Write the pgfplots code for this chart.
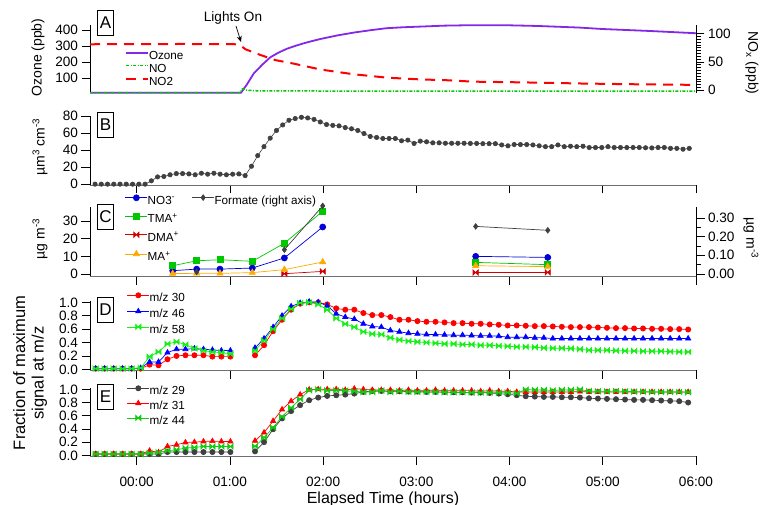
\documentclass[border=0pt]{standalone}
\usepackage{fontspec}
\setmainfont{Liberation Sans}
\usepackage{pgfplots}
\usepackage{pgfplotstable}
\pgfplotsset{compat=1.18}
\usetikzlibrary{arrows.meta}

\definecolor{ozone}{RGB}{130,40,230}
\definecolor{nogreen}{RGB}{0,200,0}
\definecolor{dkgray}{RGB}{64,64,64}
\definecolor{cblue}{RGB}{0,0,215}
\definecolor{cgreen}{RGB}{0,200,0}
\definecolor{cred}{RGB}{210,0,0}
\definecolor{corange}{RGB}{255,170,0}
\definecolor{lred}{RGB}{255,0,0}
\definecolor{lblue}{RGB}{0,0,255}
\definecolor{lgreen}{RGB}{20,240,20}
\definecolor{axgray}{RGB}{110,110,110}

\pgfdeclareplotmark{bowtie}{%
  \pgfpathmoveto{\pgfqpoint{-\pgfplotmarksize}{-\pgfplotmarksize}}%
  \pgfpathlineto{\pgfqpoint{\pgfplotmarksize}{\pgfplotmarksize}}%
  \pgfpathlineto{\pgfqpoint{\pgfplotmarksize}{-\pgfplotmarksize}}%
  \pgfpathlineto{\pgfqpoint{-\pgfplotmarksize}{\pgfplotmarksize}}%
  \pgfpathclose
  \pgfusepathqfillstroke
}

\newcommand{\tickfont}{\fontsize{13.6}{15}\selectfont}
\newcommand{\legfont}{\fontsize{11.7}{13}\selectfont}
\newcommand{\labfont}{\fontsize{14}{16}\selectfont}

\pgfplotsset{
  /pgf/number format/assume math mode=true,
  panel/.style={
    scale only axis, width=606pt, xmin=-0.5, xmax=6,
    xtick={0,1,2,3,4,5,6}, xticklabels={},
    tick align=outside, major tick length=8.5pt, minor tick length=5pt,
    tick style={black, line width=0.6pt},
    axis line style={line width=0.7pt},
    tick label style={font=\tickfont},
    clip=false, unbounded coords=jump,
  },
  bottomleft/.style={axis x line*=bottom, axis y line*=left,
     x axis line style={draw=axgray}},
  leg/.style={
    legend cell align=left,
    legend style={draw=none, fill=none, inner sep=0pt, outer sep=0pt, row sep=#1,
      nodes={inner sep=0pt, text height=8.5pt, text depth=2.5pt, font=\legfont},
      /tikz/every even column/.append style={column sep=5pt}},
    legend image code/.code={\draw[mark repeat=2,mark phase=2,##1] plot coordinates {(0pt,3.5pt) (11pt,3.5pt) (22pt,3.5pt)};},
  },
}

\pgfplotstableread{
t r b g
-0.439 0.01 0.01 0.01
-0.343 0.01 0.01 0.01
-0.246 0.01 0.01 0.01
-0.150 0.01 0.01 0.01
-0.054 0.01 0.01 0.01
0.043 0.01 0.02 0.02
0.139 0.07 0.11 0.19
0.235 0.06 0.11 0.26
0.331 0.15 0.25 0.38
0.428 0.20 0.30 0.41
0.524 0.21 0.30 0.37
0.620 0.21 0.31 0.31
0.717 0.21 0.30 0.28
0.813 0.19 0.29 0.26
0.909 0.19 0.28 0.25
1.006 0.19 0.28 0.23
1.14 nan nan nan
1.270 0.21 0.32 0.28
1.367 0.36 0.46 0.43
1.464 0.57 0.63 0.60
1.560 0.74 0.80 0.76
1.657 0.89 0.94 0.90
1.754 0.98 0.99 0.99
1.851 1.00 1.01 1.00
1.948 1.00 1.00 0.97
2.044 0.97 0.95 0.89
2.141 0.91 0.83 0.76
2.238 0.89 0.78 0.68
2.335 0.89 0.75 0.63
2.432 0.84 0.68 0.56
2.528 0.81 0.64 0.53
2.625 0.81 0.63 0.52
2.722 0.78 0.58 0.47
2.819 0.74 0.56 0.44
2.916 0.74 0.54 0.42
3.012 0.72 0.53 0.41
3.109 0.71 0.52 0.40
3.206 0.71 0.52 0.39
3.303 0.70 0.515 0.38
3.400 0.69 0.51 0.38
3.496 0.69 0.51 0.37
3.593 0.68 0.505 0.37
3.690 0.68 0.50 0.36
3.787 0.67 0.50 0.36
3.884 0.665 0.495 0.35
3.980 0.655 0.48 0.345
4.077 0.655 0.48 0.335
4.174 0.65 0.48 0.335
4.271 0.645 0.47 0.33
4.368 0.645 0.47 0.32
4.464 0.64 0.46 0.315
4.561 0.635 0.46 0.315
4.658 0.63 0.46 0.31
4.755 0.63 0.46 0.30
4.852 0.63 0.46 0.285
4.948 0.625 0.46 0.285
5.045 0.62 0.46 0.285
5.142 0.615 0.46 0.28
5.239 0.615 0.46 0.275
5.336 0.61 0.46 0.275
5.432 0.61 0.46 0.27
5.529 0.605 0.46 0.27
5.626 0.605 0.46 0.27
5.723 0.60 0.46 0.265
5.820 0.60 0.46 0.26
5.916 0.595 0.46 0.26
}\tableD

\pgfplotstableread{
t k r g
-0.439 0.02 0.02 0.02
-0.343 0.02 0.02 0.02
-0.246 0.02 0.02 0.02
-0.150 0.02 0.02 0.02
-0.054 0.02 0.02 0.02
0.043 0.02 0.02 0.02
0.139 0.02 0.07 0.035
0.235 0.02 0.045 0.045
0.331 0.05 0.135 0.07
0.428 0.05 0.16 0.085
0.524 0.05 0.195 0.11
0.620 0.05 0.20 0.12
0.717 0.05 0.21 0.135
0.813 0.05 0.215 0.135
0.909 0.05 0.21 0.135
1.006 0.05 0.21 0.135
1.14 nan nan nan
1.270 0.06 0.22 0.135
1.367 0.20 0.345 0.27
1.464 0.395 0.52 0.42
1.560 0.56 0.695 0.585
1.657 0.67 0.82 0.72
1.754 0.76 0.92 0.85
1.851 0.835 0.995 0.985
1.948 0.875 1.00 1.00
2.044 0.90 1.00 0.98
2.141 0.91 1.00 0.985
2.238 0.92 0.99 0.98
2.335 0.935 1.01 0.97
2.432 0.96 1.00 0.96
2.528 0.975 0.99 0.96
2.625 0.975 0.99 0.98
2.722 0.97 0.99 0.96
2.819 0.97 0.98 0.97
2.916 0.965 0.99 0.96
3.012 0.965 0.98 0.96
3.109 0.96 0.98 0.96
3.206 0.96 0.99 0.96
3.303 0.96 0.98 0.955
3.400 0.955 0.98 0.955
3.496 0.955 0.98 0.955
3.593 0.95 0.98 0.95
3.690 0.95 0.97 0.95
3.787 0.945 0.98 0.95
3.884 0.935 0.97 0.95
3.980 0.925 0.97 0.95
4.077 0.91 0.96 0.94
4.174 0.895 0.96 0.995
4.271 0.89 0.96 0.99
4.368 0.885 0.96 0.99
4.464 0.885 0.96 0.985
4.561 0.88 0.96 0.99
4.658 0.88 0.96 0.99
4.755 0.875 0.965 0.995
4.852 0.865 0.96 0.975
4.948 0.86 0.96 0.97
5.045 0.855 0.96 0.97
5.142 0.85 0.96 0.975
5.239 0.845 0.96 0.97
5.336 0.84 0.96 0.965
5.432 0.84 0.96 0.965
5.529 0.835 0.96 0.96
5.626 0.83 0.96 0.96
5.723 0.825 0.96 0.96
5.820 0.82 0.96 0.96
5.916 0.80 0.96 0.955
}\tableE

\begin{document}
\begin{tikzpicture}
\path[use as bounding box] (0,0) rectangle (761pt,-505pt);

% ---------------- Panel A ----------------
\begin{axis}[panel, at={(90pt,-93pt)}, anchor=south west, height=68pt,
  axis x line=none, axis y line*=left, ymin=8, ymax=430, ytick={100,200,300,400}]
\addplot[ozone, line width=1.8pt] coordinates {
(-0.5,10) (1.12,10) (1.18,58) (1.256,129) (1.35,185) (1.435,230) (1.52,258) (1.61,282)
(1.70,300) (1.79,316) (1.88,330) (1.97,343) (2.15,365) (2.33,383) (2.50,397) (2.68,410)
(2.86,416) (3.04,420) (3.30,426) (3.61,429) (4.00,428) (4.30,424) (4.75,414) (5.00,405)
(5.50,393) (5.96,380) (6.00,379)};
\end{axis}
\begin{axis}[panel, at={(90pt,-93pt)}, anchor=south west, height=68pt,
  axis x line=none, axis y line*=right, ymin=-5, ymax=115, ytick={0,50,100}, minor y tick num=9,
  leg=2pt, legend style={at={(0.0578,0.622)}, anchor=north west}]
\addlegendimage{ozone, line width=1.8pt}
\addlegendentry{Ozone}
\addplot[nogreen, line width=1.5pt, dash pattern=on 3pt off 1.5pt on 1pt off 1.5pt] coordinates {
(-0.5,-4.5) (1.11,-4.5) (1.135,2.5) (1.18,0) (1.3,-1.2) (2,-1.5) (3,-1.5) (4,-1.5) (5,-1.5) (6,-1.5)};
\addlegendentry{NO}
\addplot[red, line width=2pt, dash pattern=on 10pt off 7pt] coordinates {
(-0.5,81) (0.5,81.5) (1.08,81) (1.12,78) (1.17,72) (1.33,62) (1.49,53) (1.68,47) (1.97,36.5)
(2.33,28) (2.69,22) (3.04,19) (3.33,17.5) (3.61,15) (4.04,14) (4.40,13) (4.75,11.8) (5.30,10.5)
(5.96,9.4) (6.0,9.3)};
\addlegendentry{NO2}
\end{axis}

% ---------------- Panel B ----------------
\begin{axis}[panel, bottomleft, at={(90pt,-185pt)}, anchor=south west, height=69pt,
  ymin=-1, ymax=80, ytick={0,20,40,60,80}]
\addplot[dkgray, line width=0.6pt, mark=*, mark size=2.2pt] coordinates {
(-0.446,0) (-0.379,0) (-0.312,0) (-0.245,0) (-0.178,0) (-0.111,0) (-0.043,0) (0.024,0) (0.091,0)
(0.158,3.9) (0.225,8.5) (0.292,9) (0.359,11) (0.426,12.4) (0.493,12.4) (0.561,12) (0.628,11)
(0.695,12.8) (0.762,11.7) (0.829,12.8) (0.896,11.7) (0.963,11) (1.030,11.7) (1.097,12) (1.164,10)
(1.232,21) (1.299,33.5) (1.366,44) (1.433,54) (1.500,63) (1.567,69.5) (1.634,75) (1.701,77)
(1.768,78.5) (1.835,77.7) (1.903,76) (1.970,73) (2.037,70) (2.104,69) (2.171,68.4) (2.238,66.4)
(2.305,65) (2.372,63) (2.439,59.4) (2.506,56) (2.574,54.8) (2.641,53.6) (2.708,53.6) (2.775,53.6)
(2.842,50.9) (2.909,51.7) (2.976,47.8) (3.043,50.5) (3.110,49.7) (3.177,48.5) (3.245,48.5)
(3.312,48) (3.379,48) (3.446,48) (3.513,48) (3.580,47.8) (3.647,47.8) (3.714,47.5) (3.781,47.5)
(3.848,47.5) (3.916,46) (3.983,45) (4.050,46.5) (4.117,46.5) (4.184,46.5) (4.251,46) (4.318,45)
(4.385,44) (4.452,44) (4.519,46) (4.587,44) (4.654,44.5) (4.721,44) (4.788,44.5) (4.855,43)
(4.922,43) (4.989,43) (5.056,44) (5.123,43) (5.190,43) (5.258,43) (5.325,43) (5.392,43)
(5.459,42.7) (5.526,42.5) (5.593,43) (5.660,43) (5.727,42) (5.794,42) (5.861,41) (5.928,42)};
\end{axis}

% ---------------- Panel C ----------------
\begin{axis}[panel, bottomleft, at={(90pt,-276pt)}, anchor=south west, height=69pt,
  ymin=-1.1, ymax=37.9, ytick={0,10,20,30},
  leg=6.7pt, legend style={at={(0.0578,1.177)}, anchor=north west}]
\addplot[cblue, line width=0.7pt, mark=*, mark size=3pt] coordinates {
(0.387,1.9) (0.644,2.8) (0.894,2.8) (1.241,3.4) (1.585,9.1) (1.996,26.6) (2.5,nan) (3.637,10.0) (4.41,9.4)};
\addlegendentry{NO3\textsuperscript{-}}
\addplot[cgreen, line width=0.7pt, mark=square*, mark size=3pt] coordinates {
(0.387,4.7) (0.644,7.5) (0.894,8.1) (1.241,7.2) (1.585,17.4) (1.996,35.5) (2.5,nan) (3.637,6.6) (4.41,5.3)};
\addlegendentry{TMA\textsuperscript{+}}
\addplot[cred, line width=0.7pt, mark=bowtie, mark size=2.6pt] coordinates {
(1.585,0.2) (1.996,1.5) (2.5,nan) (3.637,0.9) (4.41,0.9)};
\addlegendentry{DMA\textsuperscript{+}}
\addplot[corange, line width=0.7pt, mark=triangle*, mark size=3.5pt] coordinates {
(0.387,0.3) (0.644,0.4) (0.894,0.4) (1.241,0.8) (1.585,2.5) (1.996,6.8) (2.5,nan) (3.637,4.7) (4.41,4.2)};
\addlegendentry{MA\textsuperscript{+}}
\end{axis}
\begin{axis}[panel, at={(90pt,-276pt)}, anchor=south west, height=69pt,
  axis x line=none, axis y line*=right, ymin=-0.011, ymax=0.359,
  ytick={0,0.1,0.2,0.3}, minor y tick num=1,
  yticklabel style={/pgf/number format/.cd, fixed, fixed zerofill, precision=2},
  leg=6.7pt, legend style={at={(0.168,1.177)}, anchor=north west}]
\addplot[dkgray, line width=0.7pt, mark=diamond*, mark size=2.8pt] coordinates {
(0.644,0.011) (1.0,nan) (1.585,0.13) (1.996,0.365) (2.5,nan) (3.637,0.255) (4.41,0.234)};
\addlegendentry{Formate (right axis)}
\end{axis}

% ---------------- Panel D ----------------
\begin{axis}[panel, bottomleft, at={(90pt,-370pt)}, anchor=south west, height=69pt,
  ymin=-0.01, ymax=1.02, ytick={0,0.2,0.4,0.6,0.8,1},
  yticklabel style={/pgf/number format/.cd, fixed, fixed zerofill, precision=1},
  leg=4pt, legend style={at={(0.061,1.120)}, anchor=north west}]
\addplot[lred, line width=0.7pt, mark=*, mark size=2.6pt] table[x=t, y=r] {\tableD};
\addlegendentry{m/z 30}
\addplot[lblue, line width=0.7pt, mark=triangle*, mark size=3pt] table[x=t, y=b] {\tableD};
\addlegendentry{m/z 46}
\addplot[lgreen, line width=0.7pt, mark=bowtie, mark size=2.6pt] table[x=t, y=g] {\tableD};
\addlegendentry{m/z 58}
\end{axis}

% ---------------- Panel E ----------------
\begin{axis}[panel, bottomleft, at={(90pt,-456pt)}, anchor=south west, height=68pt,
  ymin=-0.01, ymax=1.02, ytick={0,0.2,0.4,0.6,0.8,1},
  xticklabels={00:00,01:00,02:00,03:00,04:00,05:00,06:00},
  xticklabel style={yshift=-9pt},
  yticklabel style={/pgf/number format/.cd, fixed, fixed zerofill, precision=1},
  leg=3pt, legend style={at={(0.061,1.034)}, anchor=north west}]
\addplot[dkgray, line width=0.7pt, mark=*, mark size=2.6pt] table[x=t, y=k] {\tableE};
\addlegendentry{m/z 29}
\addplot[lred, line width=0.7pt, mark=triangle*, mark size=3pt] table[x=t, y=r] {\tableE};
\addlegendentry{m/z 31}
\addplot[lgreen!85!black, line width=0.7pt, mark=bowtie, mark size=2.6pt] table[x=t, y=g] {\tableE};
\addlegendentry{m/z 44}
\end{axis}

% ---------------- Labels ----------------
\node[font=\tickfont] at (233pt,-18pt) {Lights On};
\draw[line width=0.7pt, -{Stealth[length=6pt,width=5pt]}] (236pt,-26pt) -- (241pt,-42pt);

\foreach \lab/\yy in {A/23, B/125, C/217, D/310, E/397}{
  \node[draw, line width=0.7pt, minimum width=16.6pt, minimum height=25pt, inner sep=0pt,
        font=\fontsize{17}{17}\selectfont, fill=white] at (105.5pt,-\yy pt) {\lab};
}

\node[rotate=90, font=\labfont] at (38pt,-57.5pt) {Ozone (ppb)};
\node[rotate=-90, font=\labfont] at (752pt,-63pt) {NO\textsubscript{x} (ppb)};
\node[rotate=90, font=\labfont] at (40pt,-147pt) {µm\textsuperscript{3} cm\textsuperscript{-3}};
\node[rotate=90, font=\labfont] at (40pt,-239pt) {µg m\textsuperscript{-3}};
\node[rotate=-90, font=\labfont] at (751pt,-238pt) {µg m\textsuperscript{-3}};
\node[rotate=90, align=center, font=\fontsize{16.5}{18.5}\selectfont] at (30pt,-373pt) {Fraction of maximum\\signal at m/z};
\node[anchor=base, font=\fontsize{16}{18}\selectfont] at (383pt,-503pt) {Elapsed Time (hours)};
\end{tikzpicture}
\end{document}
